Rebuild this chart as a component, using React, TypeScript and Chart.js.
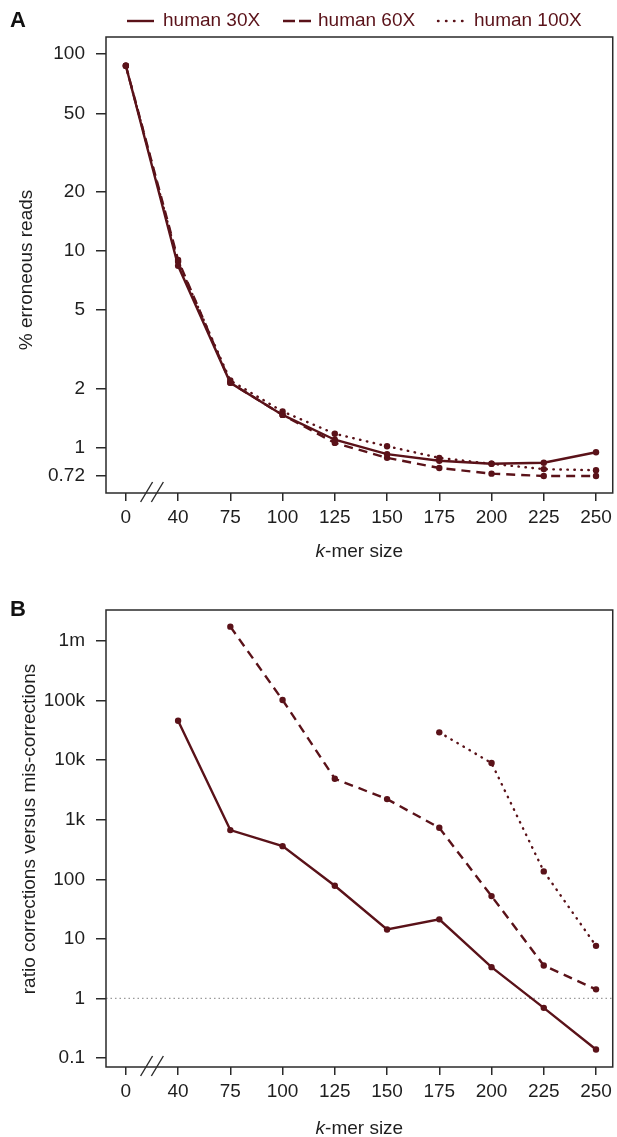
import React, { useEffect, useRef } from "react";
import { Chart, registerables } from "chart.js";

Chart.register(...registerables);

// ---------- data ----------
const kmerLabels = ["0", "40", "75", "100", "125", "150", "175", "200", "225", "250"];
const seriesNames = ["human 30X", "human 60X", "human 100X"];

// Panel A: % erroneous reads
const errHuman30X = [87.2, 8.4, 2.14, 1.47, 1.1, 0.93, 0.86, 0.83, 0.84, 0.95];
const errHuman60X = [87.2, 9.0, 2.14, 1.47, 1.06, 0.89, 0.79, 0.74, 0.72, 0.72];
const errHuman100X = [87.2, 8.8, 2.2, 1.53, 1.18, 1.02, 0.89, 0.83, 0.78, 0.77];
const errTicks = [0.72, 1, 2, 5, 10, 20, 50, 100];
const errTickLabels = ["0.72", "1", "2", "5", "10", "20", "50", "100"];

// Panel B: ratio corrections versus mis-corrections
const ratioHuman30X = [null, 46000, 671, 361, 78, 14.4, 21.3, 3.35, 0.695, 0.139];
const ratioHuman60X = [null, null, 1750000, 102500, 4880, 2226, 733, 52.3, 3.58, 1.42];
const ratioHuman100X = [null, null, null, null, null, null, 29400, 8960, 136, 7.64];
const ratioTicks = [0.1, 1, 10, 100, 1000, 10000, 100000, 1000000];
const ratioTickLabels = ["0.1", "1", "10", "100", "1k", "10k", "100k", "1m"];
const ratioReference = 1;

// ---------- styles ----------
const SERIES_COLOR = "#5a1219";
const AXIS_COLOR = "#2a2a2a";
const TEXT_COLOR = "#1e1e1e";
const FONT_FAMILY = "'Liberation Sans', Arial, Helvetica, sans-serif";
const DASHES = [[], [9, 6], [0.5, 6.5]];
const CAPS = ["butt", "butt", "round"];

const W = 617;
const HA = 575;
const HB = 562;

function toPoints(arr: (number | null)[]) {
  return arr.map((v, i) => ({ x: i, y: v }));
}

function makeDatasets(series: (number | null)[][]) {
  return series.map((arr, k) => ({
    label: seriesNames[k],
    data: toPoints(arr),
    borderColor: SERIES_COLOR,
    backgroundColor: SERIES_COLOR,
    borderWidth: 2.4,
    borderDash: DASHES[k],
    borderCapStyle: CAPS[k],
    pointRadius: 3.2,
    pointBorderWidth: 0,
    pointBackgroundColor: SERIES_COLOR,
    spanGaps: false,
    tension: 0,
  }));
}

type Decor = {
  letter: string;
  letterY: number;
  yTitle: string;
  yTitleX: number;
  yTitleY: number;
  xTitleY: number;
  legend: boolean;
  refLine: number | null;
};

function decorPlugin(d: Decor) {
  return {
    id: "decor",
    beforeDatasetsDraw(chart: any) {
      if (d.refLine === null) return;
      const ctx = chart.ctx;
      const a = chart.chartArea;
      const y = chart.scales.y.getPixelForValue(d.refLine);
      ctx.save();
      ctx.strokeStyle = "#9a9a9a";
      ctx.lineWidth = 1.3;
      ctx.setLineDash([1.5, 3]);
      ctx.beginPath();
      ctx.moveTo(a.left, y);
      ctx.lineTo(a.right, y);
      ctx.stroke();
      ctx.restore();
    },
    afterDraw(chart: any) {
      const ctx = chart.ctx;
      const a = chart.chartArea;
      const xs = chart.scales.x;
      ctx.save();
      // box
      ctx.strokeStyle = AXIS_COLOR;
      ctx.lineWidth = 1.5;
      ctx.setLineDash([]);
      ctx.strokeRect(a.left, a.top, a.right - a.left, a.bottom - a.top);
      // axis break marks
      const mid = (xs.getPixelForValue(0) + xs.getPixelForValue(1)) / 2;
      ctx.lineWidth = 1.4;
      for (const dx of [-5.4, 5.4]) {
        ctx.beginPath();
        ctx.moveTo(mid + dx - 6, a.bottom + 9);
        ctx.lineTo(mid + dx + 6, a.bottom - 11);
        ctx.stroke();
      }
      // panel letter
      ctx.fillStyle = "#111";
      ctx.font = `bold 22px ${FONT_FAMILY}`;
      ctx.textAlign = "left";
      ctx.textBaseline = "middle";
      ctx.fillText(d.letter, 10, d.letterY);
      // y title
      ctx.fillStyle = TEXT_COLOR;
      ctx.font = `19px ${FONT_FAMILY}`;
      ctx.save();
      ctx.translate(d.yTitleX, d.yTitleY);
      ctx.rotate(-Math.PI / 2);
      ctx.textAlign = "center";
      ctx.textBaseline = "middle";
      ctx.fillText(d.yTitle, 0, 0);
      ctx.restore();
      // x title with italic k
      const cx = (a.left + a.right) / 2;
      ctx.font = `italic 19px ${FONT_FAMILY}`;
      const wk = ctx.measureText("k").width;
      ctx.font = `19px ${FONT_FAMILY}`;
      const wr = ctx.measureText("-mer size").width;
      const x0 = cx - (wk + wr) / 2;
      ctx.textAlign = "left";
      ctx.textBaseline = "middle";
      ctx.font = `italic 19px ${FONT_FAMILY}`;
      ctx.fillText("k", x0, d.xTitleY);
      ctx.font = `19px ${FONT_FAMILY}`;
      ctx.fillText("-mer size", x0 + wk, d.xTitleY);
      // legend
      if (d.legend) {
        const items = [
          { x1: 127, x2: 154, tx: 163 },
          { x1: 283, x2: 311, tx: 318 },
          { x1: 438, x2: 465, tx: 474 },
        ];
        const ly = 21;
        items.forEach((it, k) => {
          ctx.strokeStyle = SERIES_COLOR;
          ctx.lineWidth = 2.4;
          if (k === 0) {
            ctx.setLineDash([]);
            ctx.lineCap = "butt";
          } else if (k === 1) {
            ctx.setLineDash([12, 4]);
            ctx.lineCap = "butt";
          } else {
            ctx.setLineDash([0.5, 7.5]);
            ctx.lineCap = "round";
          }
          ctx.beginPath();
          ctx.moveTo(it.x1, ly);
          ctx.lineTo(it.x2, ly);
          ctx.stroke();
          ctx.setLineDash([]);
          ctx.lineCap = "butt";
          ctx.fillStyle = SERIES_COLOR;
          ctx.font = `19px ${FONT_FAMILY}`;
          ctx.textAlign = "left";
          ctx.textBaseline = "middle";
          ctx.fillText(seriesNames[k], it.tx, ly);
        });
      }
      ctx.restore();
    },
  };
}

function makeConfig(opts: {
  series: (number | null)[][];
  ticks: number[];
  tickLabels: string[];
  yMin: number;
  yMax: number;
  padTop: number;
  padRight: number;
  xAxisHeight: number;
  decor: Decor;
}): any {
  const font = { family: FONT_FAMILY, size: 19 };
  return {
    type: "line",
    data: { datasets: makeDatasets(opts.series) },
    plugins: [decorPlugin(opts.decor)],
    options: {
      responsive: false,
      animation: false,
      devicePixelRatio: 1,
      layout: { padding: { top: opts.padTop, right: opts.padRight, left: 0, bottom: 0 } },
      plugins: { legend: { display: false }, tooltip: { enabled: false }, title: { display: false } },
      scales: {
        x: {
          type: "linear",
          min: -0.38,
          max: 9.32,
          afterBuildTicks: (s: any) => {
            s.ticks = kmerLabels.map((_, i) => ({ value: i }));
          },
          afterFit: (s: any) => {
            s.height = opts.xAxisHeight;
          },
          ticks: {
            autoSkip: false,
            maxRotation: 0,
            minRotation: 0,
            padding: 5,
            color: TEXT_COLOR,
            font,
            callback: (v: any, i: number) => kmerLabels[i] ?? "",
          },
          grid: { drawOnChartArea: false, drawTicks: true, tickLength: 8, color: AXIS_COLOR, lineWidth: 1.5 },
          border: { display: false },
        },
        y: {
          type: "logarithmic",
          min: opts.yMin,
          max: opts.yMax,
          afterBuildTicks: (s: any) => {
            s.ticks = opts.ticks.map((v) => ({ value: v }));
          },
          afterFit: (s: any) => {
            s.width = 106;
          },
          ticks: {
            autoSkip: false,
            padding: 11,
            color: TEXT_COLOR,
            font,
            callback: (v: any, i: number) => opts.tickLabels[i] ?? "",
          },
          grid: { drawOnChartArea: false, drawTicks: true, tickLength: 10, color: AXIS_COLOR, lineWidth: 1.5 },
          border: { display: false },
        },
      },
    },
  };
}

export default function App() {
  const refA = useRef<HTMLCanvasElement>(null);
  const refB = useRef<HTMLCanvasElement>(null);

  useEffect(() => {
    const chartA = new Chart(
      refA.current as HTMLCanvasElement,
      makeConfig({
        series: [errHuman30X, errHuman60X, errHuman100X],
        ticks: errTicks,
        tickLabels: errTickLabels,
        yMin: 0.59,
        yMax: 122,
        padTop: 37,
        padRight: 2.5,
        xAxisHeight: HA - 493,
        decor: {
          letter: "A",
          letterY: 21,
          yTitle: "% erroneous reads",
          yTitleX: 27,
          yTitleY: 270,
          xTitleY: 552,
          legend: true,
          refLine: null,
        },
      })
    );
    const chartB = new Chart(
      refB.current as HTMLCanvasElement,
      makeConfig({
        series: [ratioHuman30X, ratioHuman60X, ratioHuman100X],
        ticks: ratioTicks,
        tickLabels: ratioTickLabels,
        yMin: 0.0706,
        yMax: 3.33e6,
        padTop: 35,
        padRight: 2,
        xAxisHeight: HB - 492,
        decor: {
          letter: "B",
          letterY: 35,
          yTitle: "ratio corrections versus mis-corrections",
          yTitleX: 30,
          yTitleY: 254,
          xTitleY: 554,
          legend: false,
          refLine: ratioReference,
        },
      })
    );
    return () => {
      chartA.destroy();
      chartB.destroy();
    };
  }, []);

  return (
    <div style={{ position: "absolute", left: 0, top: 0, width: W, height: HA + HB, background: "#fff" }}>
      <canvas
        ref={refA}
        width={W}
        height={HA}
        style={{ position: "absolute", left: 0, top: 0, width: W, height: HA, display: "block" }}
      />
      <canvas
        ref={refB}
        width={W}
        height={HB}
        style={{ position: "absolute", left: 0, top: HA, width: W, height: HB, display: "block" }}
      />
    </div>
  );
}
